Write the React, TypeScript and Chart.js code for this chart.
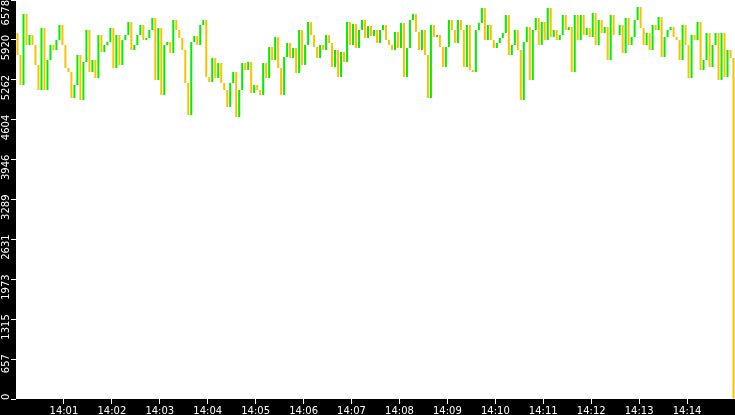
import { useEffect, useRef } from 'react'
import { Chart, registerables } from 'chart.js'

Chart.register(...registerables)

// time axis: 14:00 .. 14:15, one bar every 3.75 s
const SPAN_SECONDS = 900
const BAR_SECONDS = 3.75
const X_TICK_LABELS = [
  '14:01', '14:02', '14:03', '14:04', '14:05', '14:06', '14:07',
  '14:08', '14:09', '14:10', '14:11', '14:12', '14:13', '14:14',
]
const Y_MAX = 6578
const Y_TICK_LABELS = ['0', '657', '1315', '1973', '2631', '3289', '3946', '4604', '5262', '5920', '6578']

const FIRST_OPEN = 6034
// closes in six chunks of 40 bars
const CLOSES_A = [
  5671, 5177, 6347, 5836, 6001, 5836, 5506, 5094, 6116, 5094,
  5589, 5836, 5754, 5919, 6166, 5836, 5457, 5391, 4962, 5177,
  5671, 4929, 5556, 6083, 5391, 5589, 5292, 6001, 5721, 5836,
  5886, 6116, 5457, 6001, 5506, 5919, 6001, 6215, 5754, 5836,
]
const CLOSES_B = [
  6001, 6166, 5919, 5952, 6083, 6281, 5259, 6116, 5012, 5836,
  5886, 5704, 6248, 6083, 5952, 5754, 5210, 4682, 5886, 5985,
  5836, 6166, 6248, 5309, 5226, 5622, 5292, 5539, 5210, 5094,
  4814, 5210, 5391, 4649, 5094, 5539, 5424, 5556, 5045, 5177,
]
const CLOSES_C = [
  5094, 5012, 5539, 5292, 5803, 5589, 5968, 5457, 5012, 5638,
  5869, 5622, 5787, 5375, 6083, 5506, 5836, 6215, 6001, 5803,
  5622, 5836, 5754, 6001, 5869, 5473, 5754, 5309, 5721, 5556,
  6215, 5836, 6182, 5787, 6083, 6248, 5952, 6149, 5985, 6083,
]
const CLOSES_D = [
  5869, 6083, 6166, 5919, 5836, 5754, 6050, 5787, 6199, 5309,
  5787, 6248, 6347, 6050, 5754, 6083, 5671, 4962, 6166, 5968,
  6001, 5803, 5473, 5803, 6248, 6083, 5869, 6248, 6083, 5473,
  6166, 5424, 5391, 6083, 6199, 6446, 5919, 6166, 5919, 5787,
]
const CLOSES_E = [
  5869, 5952, 6034, 6331, 5671, 5836, 6083, 5754, 4929, 5886,
  6133, 5259, 6083, 6281, 5836, 6215, 5919, 6446, 5968, 6083,
  5919, 6001, 6331, 6083, 6133, 5391, 6331, 5919, 6331, 6001,
  6116, 5968, 6364, 5836, 6248, 6034, 6133, 5589, 6331, 6001,
]
const CLOSES_F = [
  6001, 6166, 5704, 6281, 5836, 5968, 6248, 6463, 6116, 5836,
  6034, 5754, 6166, 6083, 6298, 5638, 5968, 6083, 6133, 5968,
  5919, 5589, 6166, 5836, 5292, 6001, 5919, 6215, 5424, 5589,
  6034, 5473, 5836, 6034, 5259, 6034, 5309, 5754, 5622, 0,
]

const UP_COLOR = '#00f000'
const DOWN_COLOR = '#ffc000'

const frame = {
  id: 'frame',
  beforeDraw(chart: Chart) {
    const { ctx, chartArea: a, width, height } = chart
    ctx.save()
    ctx.fillStyle = '#000'
    ctx.fillRect(0, 0, width, height)
    ctx.fillStyle = '#fff'
    ctx.fillRect(a.left, a.top, a.right - a.left, a.bottom - a.top)
    ctx.restore()
  },
  afterDraw(chart: Chart) {
    // vertical y labels, reading bottom to top, just around their tick
    const { ctx } = chart
    const scale = chart.scales.y
    ctx.save()
    ctx.font = '10px "DejaVu Sans"'
    ctx.fillStyle = '#fff'
    ctx.textAlign = 'right'
    ctx.textBaseline = 'middle'
    scale.ticks.forEach((t, i) => {
      const label = Y_TICK_LABELS[i] ?? ''
      const w = ctx.measureText(label).width
      const y = Math.min(scale.getPixelForValue(t.value) - 5, scale.bottom + 1 - w)
      ctx.save()
      ctx.translate(6, Math.max(y, 0))
      ctx.rotate(-Math.PI / 2)
      ctx.fillText(label, 0, 0)
      ctx.restore()
    })
    ctx.restore()
  },
}

export default function App() {
  const canvasRef = useRef<HTMLCanvasElement>(null)
  const chartRef = useRef<Chart | null>(null)

  useEffect(() => {
    if (!canvasRef.current) return
    chartRef.current?.destroy()

    const closes = [...CLOSES_A, ...CLOSES_B, ...CLOSES_C, ...CLOSES_D, ...CLOSES_E, ...CLOSES_F]
    const bars = closes.map((c, i) => ({
      x: BAR_SECONDS * (i + 0.5),
      y: [i === 0 ? FIRST_OPEN : closes[i - 1], c],
    }))
    const colors = bars.map((b) => (b.y[1] > b.y[0] ? UP_COLOR : DOWN_COLOR))

    chartRef.current = new Chart(canvasRef.current, {
      type: 'bar',
      data: {
        datasets: [{
          data: bars as any,
          backgroundColor: colors,
          borderWidth: 0,
          barPercentage: 0.67,
          categoryPercentage: 1,
        }],
      },
      options: {
        animation: false,
        responsive: true,
        maintainAspectRatio: false,
        layout: { padding: 0 },
        plugins: { legend: { display: false }, tooltip: { enabled: false } },
        scales: {
          x: {
            type: 'linear',
            offset: false,
            min: 0,
            max: SPAN_SECONDS,
            afterBuildTicks: (s: any) => {
              s.ticks = s.ticks.filter((t: any) => t.value > 0 && t.value < SPAN_SECONDS)
            },
            afterFit: (s: any) => { s.height = 16 },
            border: { display: false },
            grid: { offset: false, drawOnChartArea: false, color: '#fff', tickLength: 5 },
            ticks: {
              stepSize: 60,
              maxRotation: 0,
              autoSkip: false,
              padding: 1,
              color: '#fff',
              font: { family: 'DejaVu Sans', size: 10 },
              callback: (v: any) => X_TICK_LABELS[Math.round(v / 60) - 1] ?? '',
            },
          },
          y: {
            min: 0,
            max: Y_MAX,
            afterFit: (s: any) => { s.width = 16 },
            border: { display: false },
            grid: { drawOnChartArea: false, color: '#fff', tickLength: 5 },
            ticks: { count: 11, display: false },
          },
        },
      },
      plugins: [frame],
    })

    return () => { chartRef.current?.destroy() }
  }, [])

  return (
    <div style={{ position: 'fixed', left: 0, top: 0, width: 735, height: 415, background: '#000' }}>
      <canvas ref={canvasRef} />
    </div>
  )
}
